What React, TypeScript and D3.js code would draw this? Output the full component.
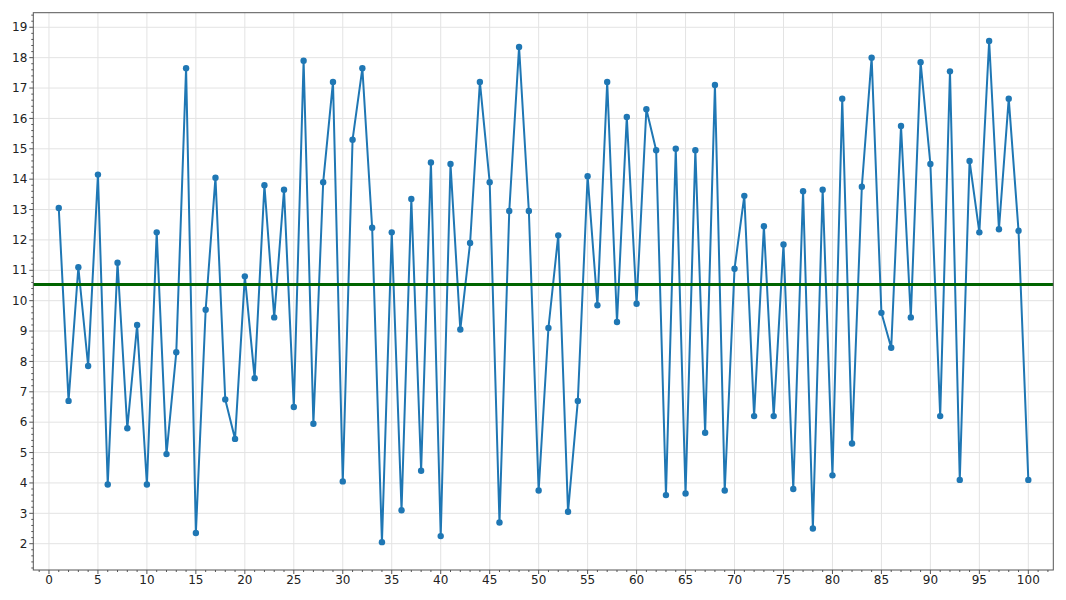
import React from 'react';
import * as d3 from 'd3';

// values, index 1..100
const xs: number[] = d3.range(1, 101);
const values: number[] = [
  13.05, 6.7, 11.1, 7.85, 14.15, 3.95, 11.25, 5.8, 9.2, 3.95,
  12.25, 4.95, 8.3, 17.65, 2.35, 9.7, 14.05, 6.75, 5.45, 10.8,
  7.45, 13.8, 9.45, 13.65, 6.5, 17.9, 5.95, 13.9, 17.2, 4.05,
  15.3, 17.65, 12.4, 2.05, 12.25, 3.1, 13.35, 4.4, 14.55, 2.25,
  14.5, 9.05, 11.9, 17.2, 13.9, 2.7, 12.95, 18.35, 12.95, 3.75,
  9.1, 12.15, 3.05, 6.7, 14.1, 9.85, 17.2, 9.3, 16.05, 9.9,
  16.3, 14.95, 3.6, 15.0, 3.65, 14.95, 5.65, 17.1, 3.75, 11.05,
  13.45, 6.2, 12.45, 6.2, 11.85, 3.8, 13.6, 2.5, 13.65, 4.25,
  16.65, 5.3, 13.75, 18.0, 9.6, 8.45, 15.75, 9.45, 17.85, 14.5,
  6.2, 17.55, 4.1, 14.6, 12.25, 18.55, 12.35, 16.65, 12.3, 4.1,
];
const xTicks: number[] = d3.range(0, 101, 5);
const yTicks: number[] = d3.range(2, 20, 1);

const WIDTH = 1066;
const HEIGHT = 600;
const LEFT = 33.3;
const RIGHT = 1053.3;
const TOP = 12.7;
const BOTTOM = 570;

const LINE_COLOR = '#1f77b4';
const MEAN_COLOR = '#006400';
const GRID = '#e3e3e3';
const AXIS = '#555';
const FONT = 'DejaVu Sans, sans-serif';

function App() {
  const xScale = d3.scaleLinear().domain([-1.6, 102.55]).range([LEFT, RIGHT]);
  const yScale = d3.scaleLinear().domain([1.134, 19.48]).range([BOTTOM, TOP]);

  const mean = d3.mean(values) as number;
  const points = xs.map((x, i) => [x, values[i]] as [number, number]);
  const line = d3
    .line<[number, number]>()
    .x((d) => xScale(d[0]))
    .y((d) => yScale(d[1]));

  const xMinor = d3.range(-1, 103, 1).filter((v) => v % 5 !== 0);
  const yMinor = d3
    .range(1.2, 19.45, 0.2)
    .filter((v) => Math.abs(v - Math.round(v)) > 0.01);

  return (
    <svg
      width={WIDTH}
      height={HEIGHT}
      style={{ position: 'absolute', left: 0, top: 0, background: '#fff' }}
      fontFamily={FONT}
    >
      {/* grid */}
      <g>
        {xTicks.map((t) => (
          <line
            key={`gx${t}`}
            x1={xScale(t)}
            x2={xScale(t)}
            y1={TOP}
            y2={BOTTOM}
            stroke={GRID}
            strokeWidth={1}
          />
        ))}
        {yTicks.map((t) => (
          <line
            key={`gy${t}`}
            x1={LEFT}
            x2={RIGHT}
            y1={yScale(t)}
            y2={yScale(t)}
            stroke={GRID}
            strokeWidth={1}
          />
        ))}
      </g>

      {/* series */}
      <path d={line(points) || ''} fill="none" stroke={LINE_COLOR} strokeWidth={2} strokeLinejoin="round" />
      <g>
        {points.map((p, i) => (
          <circle key={`pt${i}`} cx={xScale(p[0])} cy={yScale(p[1])} r={3.2} fill={LINE_COLOR} />
        ))}
      </g>

      {/* mean line */}
      <line
        x1={LEFT}
        x2={RIGHT}
        y1={yScale(mean)}
        y2={yScale(mean)}
        stroke={MEAN_COLOR}
        strokeWidth={3}
      />

      {/* frame */}
      <rect
        x={LEFT}
        y={TOP}
        width={RIGHT - LEFT}
        height={BOTTOM - TOP}
        fill="none"
        stroke={AXIS}
        strokeWidth={1}
      />

      {/* x axis */}
      <g>
        {xMinor.map((t) => (
          <line key={`xm${t}`} x1={xScale(t)} x2={xScale(t)} y1={BOTTOM} y2={BOTTOM + 2} stroke={AXIS} />
        ))}
        {xTicks.map((t) => (
          <g key={`xt${t}`}>
            <line x1={xScale(t)} x2={xScale(t)} y1={BOTTOM} y2={BOTTOM + 4} stroke={AXIS} />
            <text
              x={xScale(t)}
              y={BOTTOM + 14}
              textAnchor="middle"
              fontSize={12}
              fill="#222"
            >
              {t}
            </text>
          </g>
        ))}
      </g>

      {/* y axis */}
      <g>
        {yMinor.map((t, i) => (
          <line key={`ym${i}`} x1={LEFT - 2} x2={LEFT} y1={yScale(t)} y2={yScale(t)} stroke={AXIS} />
        ))}
        {yTicks.map((t) => (
          <g key={`yt${t}`}>
            <line x1={LEFT - 4} x2={LEFT} y1={yScale(t)} y2={yScale(t)} stroke={AXIS} />
            <text
              x={LEFT - 6}
              y={yScale(t)}
              dy="0.35em"
              textAnchor="end"
              fontSize={12}
              fill="#222"
            >
              {t}
            </text>
          </g>
        ))}
      </g>
    </svg>
  );
}

export default App;
